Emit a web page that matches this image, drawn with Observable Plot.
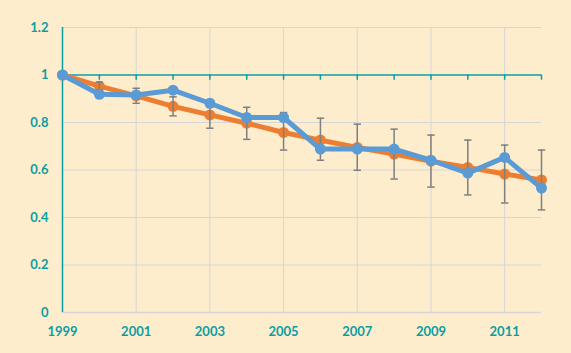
<!DOCTYPE html>
<html>
<head>
<meta charset="utf-8">
<script src="https://cdn.jsdelivr.net/npm/d3@7"></script>
<script src="https://cdn.jsdelivr.net/npm/@observablehq/plot@0.6"></script>
<style>
  html, body { margin: 0; padding: 0; background: #fdedcd; }
</style>
</head>
<body>
<div id="chart"></div>
<script>
const years = [1999, 2000, 2001, 2002, 2003, 2004, 2005, 2006, 2007, 2008, 2009, 2010, 2011, 2012];
const orangeSeries = [1.0, 0.953, 0.912, 0.868, 0.832, 0.797, 0.758, 0.726, 0.695, 0.667, 0.637, 0.611, 0.583, 0.558];
const blueSeries = [1.0, 0.919, 0.916, 0.936, 0.881, 0.821, 0.821, 0.688, 0.688, 0.688, 0.641, 0.587, 0.653, 0.524];
const errLow = [null, 0.938, 0.881, 0.828, 0.776, 0.729, 0.684, 0.641, 0.599, 0.562, 0.528, 0.495, 0.461, 0.432];
const errHigh = [null, 0.970, 0.944, 0.908, 0.888, 0.864, 0.842, 0.818, 0.793, 0.772, 0.747, 0.726, 0.705, 0.684];
const yTicks = [0, 0.2, 0.4, 0.6, 0.8, 1, 1.2];
const xTicks = [1999, 2001, 2003, 2005, 2007, 2009, 2011];
const gridY = [0.2, 0.4, 0.6, 0.8, 1.2];
const gridX = [2001, 2003, 2005, 2007, 2009, 2011];

const teal = "#0a9ea3";
const orange = "#ed7d31";
const blue = "#5b9bd5";
const grid = "#d6d6d6";

const orangeData = years.map((y, i) => ({year: y, v: orangeSeries[i]}));
const blueData = years.map((y, i) => ({year: y, v: blueSeries[i]}));
const errData = years.map((y, i) => ({year: y, lo: errLow[i], hi: errHigh[i]})).filter(d => d.lo != null);
const capHalf = 0.1;
const tickLen = 0.022;

const chart = Plot.plot({
  width: 571,
  height: 353,
  marginLeft: 62,
  marginRight: 30,
  marginTop: 27,
  marginBottom: 41,
  style: {background: "#fdedcd", fontFamily: "Lato, 'Open Sans', sans-serif"},
  x: {domain: [1999, 2012]},
  y: {domain: [0, 1.2]},
  marks: [
    Plot.ruleY(gridY, {stroke: grid, strokeWidth: 1}),
    Plot.ruleY([0], {stroke: grid, strokeWidth: 1.5}),
    Plot.ruleX(gridX, {y1: 0, y2: 1.2, stroke: grid, strokeWidth: 1}),
    Plot.ruleX([1999], {y1: 0, y2: 1.2, stroke: teal, strokeWidth: 1.5}),
    Plot.ruleY([1], {x1: 1999, x2: 2012, stroke: teal, strokeWidth: 1.5}),
    Plot.ruleX(years.slice(1), {y1: 1, y2: 1 - tickLen, stroke: teal, strokeWidth: 1.5}),
    Plot.axisY(yTicks, {tickSize: 0, tickPadding: 14, fill: teal, fontWeight: "bold", fontSize: 13, label: null, tickFormat: d => String(d)}),
    Plot.axisX(xTicks, {tickSize: 0, tickPadding: 14, fill: teal, fontWeight: "bold", fontSize: 13, label: null, tickFormat: "d"}),
    Plot.line(orangeData, {x: "year", y: "v", stroke: orange, strokeWidth: 5}),
    Plot.dot(orangeData, {x: "year", y: "v", fill: orange, r: 5.5}),
    Plot.ruleX(errData, {x: "year", y1: "lo", y2: "hi", stroke: "#7f7f7f", strokeWidth: 1.5}),
    Plot.link(errData, {x1: d => d.year - capHalf, x2: d => d.year + capHalf, y1: "hi", y2: "hi", stroke: "#7f7f7f", strokeWidth: 1.5}),
    Plot.link(errData, {x1: d => d.year - capHalf, x2: d => d.year + capHalf, y1: "lo", y2: "lo", stroke: "#7f7f7f", strokeWidth: 1.5}),
    Plot.line(blueData, {x: "year", y: "v", stroke: blue, strokeWidth: 5}),
    Plot.dot(blueData, {x: "year", y: "v", fill: blue, r: 5.5})
  ]
});
document.getElementById("chart").appendChild(chart);
</script>
</body>
</html>
